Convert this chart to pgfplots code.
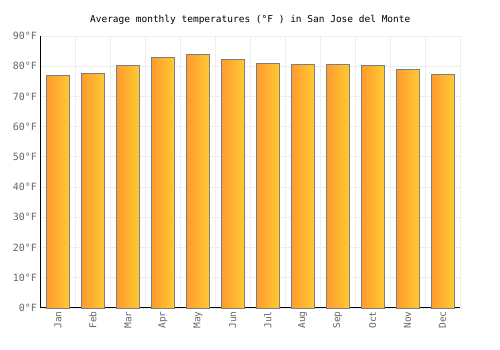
\documentclass[border=0pt]{standalone}
\usepackage{pgfplots}
\pgfplotsset{compat=1.18}
\usepackage{fontspec}
\setmainfont{DejaVu Sans Mono}
\setmonofont{DejaVu Sans Mono}
\definecolor{barL}{HTML}{FF9A2E}
\definecolor{barR}{HTML}{FFCA33}
\definecolor{barE}{HTML}{7F7F7F}
\definecolor{gridc}{HTML}{EEEEEE}
\definecolor{tickc}{HTML}{666666}
\pgfplotsset{tbar/.style={ybar, bar width=23pt, bar shift=0pt, draw=barE, line width=0.9pt, left color=barL, right color=barR}}
\begin{document}
\begin{tikzpicture}
\path[use as bounding box, fill=white] (0,0) rectangle (500pt,350pt);
\begin{axis}[
  at={(40.5pt,42pt)}, anchor=south west,
  scale only axis, width=419.5pt, height=272pt,
  xmin=-0.5, xmax=11.5, ymin=0, ymax=90,
  xtick={0,...,11},
  xticklabels={Jan,Feb,Mar,Apr,May,Jun,Jul,Aug,Sep,Oct,Nov,Dec},
  x tick label style={rotate=90, anchor=east, font=\fontsize{9.5}{10}\selectfont, text=tickc},
  minor xtick={-0.5,0.5,...,11.5},
  xminorgrids=true, xmajorgrids=false,
  ytick={0,10,...,90},
  yticklabel={\pgfmathprintnumber{\tick}°F},
  y tick label style={font=\fontsize{10}{10}\selectfont, text=tickc},
  /pgf/number format/assume math mode=true,
  ymajorgrids=true,
  grid style={gridc, line width=0.8pt},
  minor grid style={gridc, line width=0.8pt},
  major tick length=0pt, minor tick length=0pt,
  axis x line*=bottom, axis y line*=left,
  axis line style={black, line width=1pt, -},
  title={Average monthly temperatures (°F ) in San Jose del Monte},
  title style={font=\fontsize{9.5}{10}\selectfont, yshift=2pt},
  clip=false,
]
\addplot[tbar] coordinates {(0,77.0)};
\addplot[tbar] coordinates {(1,77.7)};
\addplot[tbar] coordinates {(2,80.3)};
\addplot[tbar] coordinates {(3,82.9)};
\addplot[tbar] coordinates {(4,83.9)};
\addplot[tbar] coordinates {(5,82.3)};
\addplot[tbar] coordinates {(6,81.0)};
\addplot[tbar] coordinates {(7,80.6)};
\addplot[tbar] coordinates {(8,80.6)};
\addplot[tbar] coordinates {(9,80.3)};
\addplot[tbar] coordinates {(10,79.0)};
\addplot[tbar] coordinates {(11,77.4)};
\end{axis}
\end{tikzpicture}
\end{document}
